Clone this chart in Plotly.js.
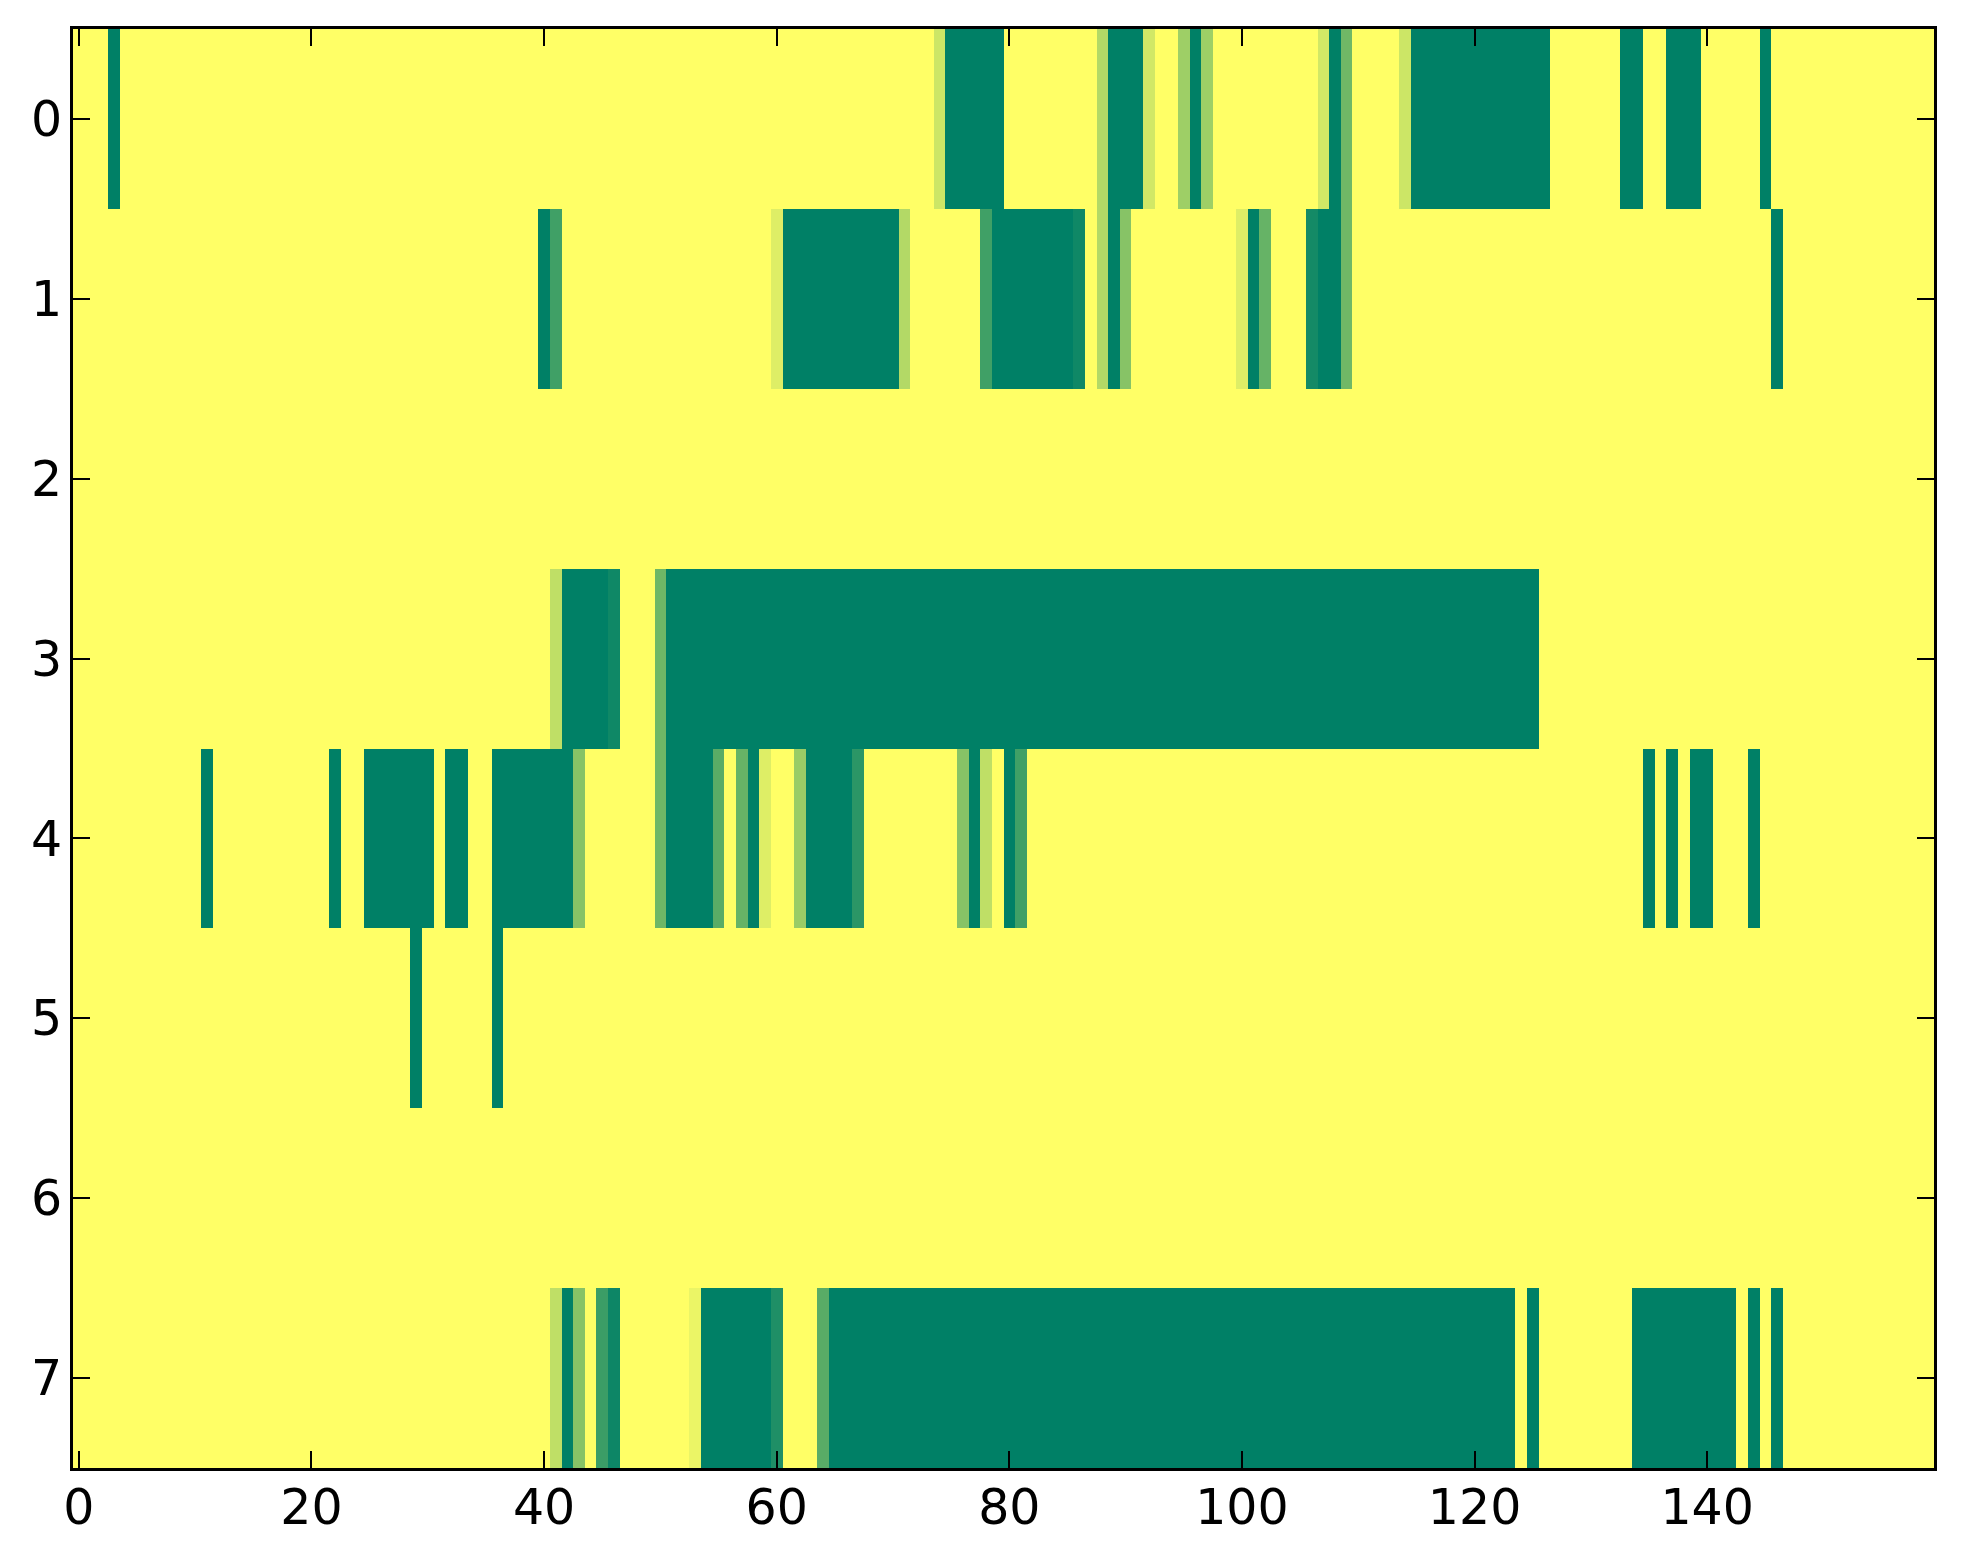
<!DOCTYPE html>
<html>
<head>
<meta charset="utf-8">
<script src="https://cdn.plot.ly/plotly-3.0.1.min.js"></script>
<style>
html,body{margin:0;padding:0;background:#fff;}
#chart{width:1963px;height:1564px;}
</style>
</head>
<body>
<div id="chart"></div>
<script>
// Row values (0 = yellow, 1 = dark green), 160 columns each
const row0 = [
0,0,0,1,0,0,0,0,0,0,
0,0,0,0,0,0,0,0,0,0,
0,0,0,0,0,0,0,0,0,0,
0,0,0,0,0,0,0,0,0,0,
0,0,0,0,0,0,0,0,0,0,
0,0,0,0,0,0,0,0,0,0,
0,0,0,0,0,0,0,0,0,0,
0,0,0,0,0.2,1,1,1,1,1,
0,0,0,0,0,0,0,0,0.3,1,
1,1,0.18,0,0,0.38,1,0.38,0,0,
0,0,0,0,0,0,0,0.18,1,0.56,
0,0,0,0,0.2,1,1,1,1,1,
1,1,1,1,1,1,1,0,0,0,
0,0,0,1,1,0,0,1,1,1,
0,0,0,0,0,1,0,0,0,0,
0,0,0,0,0,0,0,0,0,0
];
const row1 = [
0,0,0,0,0,0,0,0,0,0,
0,0,0,0,0,0,0,0,0,0,
0,0,0,0,0,0,0,0,0,0,
0,0,0,0,0,0,0,0,0,0,
1,0.75,0,0,0,0,0,0,0,0,
0,0,0,0,0,0,0,0,0,0,
0.13,1,1,1,1,1,1,1,1,1,
1,0.3,0,0,0,0,0,0,0.75,1,
1,1,1,1,1,1,0.94,0,0.3,1,
0.47,0,0,0,0,0,0,0,0,0,
0.13,1,0.6,0,0,0,0.92,1,1,0.56,
0,0,0,0,0,0,0,0,0,0,
0,0,0,0,0,0,0,0,0,0,
0,0,0,0,0,0,0,0,0,0,
0,0,0,0,0,0,1,0,0,0,
0,0,0,0,0,0,0,0,0,0
];
const row2 = [
0,0,0,0,0,0,0,0,0,0,
0,0,0,0,0,0,0,0,0,0,
0,0,0,0,0,0,0,0,0,0,
0,0,0,0,0,0,0,0,0,0,
0,0,0,0,0,0,0,0,0,0,
0,0,0,0,0,0,0,0,0,0,
0,0,0,0,0,0,0,0,0,0,
0,0,0,0,0,0,0,0,0,0,
0,0,0,0,0,0,0,0,0,0,
0,0,0,0,0,0,0,0,0,0,
0,0,0,0,0,0,0,0,0,0,
0,0,0,0,0,0,0,0,0,0,
0,0,0,0,0,0,0,0,0,0,
0,0,0,0,0,0,0,0,0,0,
0,0,0,0,0,0,0,0,0,0,
0,0,0,0,0,0,0,0,0,0
];
const row3 = [
0,0,0,0,0,0,0,0,0,0,
0,0,0,0,0,0,0,0,0,0,
0,0,0,0,0,0,0,0,0,0,
0,0,0,0,0,0,0,0,0,0,
0,0.25,1,1,1,1,0.94,0,0,0,
0.57,1,1,1,1,1,1,1,1,1,
1,1,1,1,1,1,1,1,1,1,
1,1,1,1,1,1,1,1,1,1,
1,1,1,1,1,1,1,1,1,1,
1,1,1,1,1,1,1,1,1,1,
1,1,1,1,1,1,1,1,1,1,
1,1,1,1,1,1,1,1,1,1,
1,1,1,1,1,1,0,0,0,0,
0,0,0,0,0,0,0,0,0,0,
0,0,0,0,0,0,0,0,0,0,
0,0,0,0,0,0,0,0,0,0
];
const row4 = [
0,0,0,0,0,0,0,0,0,0,
0,1,0,0,0,0,0,0,0,0,
0,0,1,0,0,1,1,1,1,1,
1,0,1,1,0,0,1,1,1,1,
1,1,1,0.47,0,0,0,0,0,0,
0.57,1,1,1,1,0.65,0,0.6,1,0.13,
0,0,0.4,1,1,1,1,0.83,0,0,
0,0,0,0,0,0,0.47,1,0.25,0,
1,0.75,0,0,0,0,0,0,0,0,
0,0,0,0,0,0,0,0,0,0,
0,0,0,0,0,0,0,0,0,0,
0,0,0,0,0,0,0,0,0,0,
0,0,0,0,0,0,0,0,0,0,
0,0,0,0,0,1,0,1,0,1,
1,0,0,0,1,0,0,0,0,0,
0,0,0,0,0,0,0,0,0,0
];
const row5 = [
0,0,0,0,0,0,0,0,0,0,
0,0,0,0,0,0,0,0,0,0,
0,0,0,0,0,0,0,0,0,1,
0,0,0,0,0,0,1,0,0,0,
0,0,0,0,0,0,0,0,0,0,
0,0,0,0,0,0,0,0,0,0,
0,0,0,0,0,0,0,0,0,0,
0,0,0,0,0,0,0,0,0,0,
0,0,0,0,0,0,0,0,0,0,
0,0,0,0,0,0,0,0,0,0,
0,0,0,0,0,0,0,0,0,0,
0,0,0,0,0,0,0,0,0,0,
0,0,0,0,0,0,0,0,0,0,
0,0,0,0,0,0,0,0,0,0,
0,0,0,0,0,0,0,0,0,0,
0,0,0,0,0,0,0,0,0,0
];
const row6 = [
0,0,0,0,0,0,0,0,0,0,
0,0,0,0,0,0,0,0,0,0,
0,0,0,0,0,0,0,0,0,0,
0,0,0,0,0,0,0,0,0,0,
0,0,0,0,0,0,0,0,0,0,
0,0,0,0,0,0,0,0,0,0,
0,0,0,0,0,0,0,0,0,0,
0,0,0,0,0,0,0,0,0,0,
0,0,0,0,0,0,0,0,0,0,
0,0,0,0,0,0,0,0,0,0,
0,0,0,0,0,0,0,0,0,0,
0,0,0,0,0,0,0,0,0,0,
0,0,0,0,0,0,0,0,0,0,
0,0,0,0,0,0,0,0,0,0,
0,0,0,0,0,0,0,0,0,0,
0,0,0,0,0,0,0,0,0,0
];
const row7 = [
0,0,0,0,0,0,0,0,0,0,
0,0,0,0,0,0,0,0,0,0,
0,0,0,0,0,0,0,0,0,0,
0,0,0,0,0,0,0,0,0,0,
0,0.25,1,0.47,0,0.77,0.95,0,0,0,
0,0,0,0.08,1,1,1,1,1,1,
0.88,0,0,0,0.65,1,1,1,1,1,
1,1,1,1,1,1,1,1,1,1,
1,1,1,1,1,1,1,1,1,1,
1,1,1,1,1,1,1,1,1,1,
1,1,1,1,1,1,1,1,1,1,
1,1,1,1,1,1,1,1,1,1,
1,1,1,1,0,1,0,0,0,0,
0,0,0,0,1,1,1,1,1,1,
1,1,1,0,1,0,1,0,0,0,
0,0,0,0,0,0,0,0,0,0
];

const rowLabels = [0,1,2,3,4,5,6,7];
const xTickVals = [0,20,40,60,80,100,120,140];
const columns = row0.map((_, i) => i);
const zRows = [row0,row1,row2,row3,row4,row5,row6,row7];

const trace = {
  type: 'heatmap',
  z: zRows,
  x: columns,
  y: rowLabels,
  zmin: 0, zmax: 1,
  colorscale: [[0,'rgb(255,255,102)'],[1,'rgb(0,128,102)']],
  showscale: false,
  hoverinfo: 'x+y+z'
};

const axisCommon = {
  showline: true, linecolor: '#000', linewidth: 3, mirror: 'ticks',
  ticks: 'inside', ticklen: 17, tickwidth: 2, tickcolor: '#000',
  showgrid: false, zeroline: false,
  tickfont: {family: 'DejaVu Sans', size: 49, color: '#000'}
};

const layout = {
  width: 1963, height: 1564,
  margin: {l: 73, r: 29, t: 29, b: 96, pad: 0},
  paper_bgcolor: '#fff', plot_bgcolor: '#fff',
  xaxis: Object.assign({}, axisCommon, {
    range: [-0.5, 159.5], tickvals: xTickVals, ticktext: xTickVals.map(String),
    ticklabelstandoff: -6
  }),
  yaxis: Object.assign({}, axisCommon, {
    range: [7.5, -0.5], tickvals: rowLabels, ticktext: rowLabels.map(String),
    ticklabelstandoff: -2
  })
};

Plotly.newPlot('chart', [trace], layout, {staticPlot: true});
</script>
</body>
</html>
